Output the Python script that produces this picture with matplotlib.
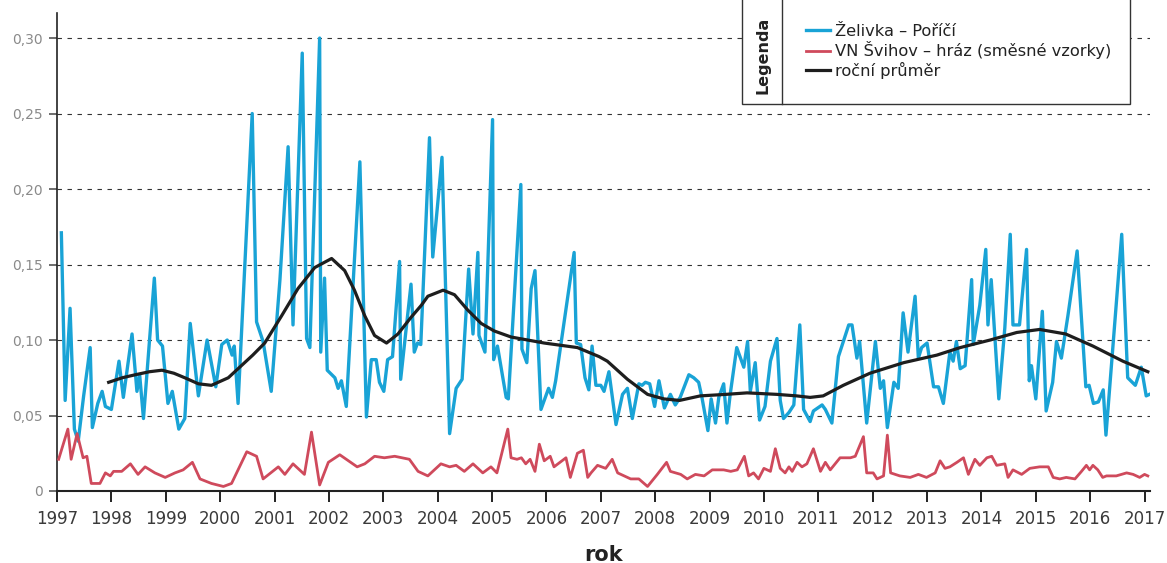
import matplotlib.pyplot as plt
from matplotlib.lines import Line2D
from matplotlib.patches import Rectangle

# Želivka – Poříčí
zelivka_t = [1997.08, 1997.15, 1997.24, 1997.32, 1997.39, 1997.49, 1997.61, 1997.65, 1997.75, 1997.83,
             1997.89, 1998.00, 1998.14, 1998.22, 1998.38, 1998.47, 1998.52, 1998.59, 1998.79, 1998.85,
             1998.94, 1999.04, 1999.12, 1999.24, 1999.35, 1999.45, 1999.60, 1999.76, 1999.92, 2000.03,
             2000.13, 2000.22, 2000.26, 2000.33, 2000.59, 2000.67, 2000.79, 2000.94, 2001.10, 2001.25,
             2001.34, 2001.51, 2001.59, 2001.65, 2001.83, 2001.85, 2001.92, 2001.97, 2002.11, 2002.17,
             2002.23, 2002.32, 2002.57, 2002.69, 2002.78, 2002.87, 2002.93, 2003.01, 2003.08, 2003.17,
             2003.30, 2003.32, 2003.51, 2003.57, 2003.63, 2003.69, 2003.85, 2003.91, 2004.08, 2004.22,
             2004.34, 2004.45, 2004.57, 2004.65, 2004.74, 2004.76, 2004.87, 2005.01, 2005.03, 2005.10,
             2005.26, 2005.30, 2005.53, 2005.55, 2005.64, 2005.72, 2005.79, 2005.90, 2006.04, 2006.11,
             2006.17, 2006.51, 2006.55, 2006.63, 2006.71, 2006.78, 2006.84, 2006.91, 2007.00, 2007.06,
             2007.15, 2007.28, 2007.40, 2007.49, 2007.58, 2007.70, 2007.76, 2007.82, 2007.90, 2007.99,
             2008.07, 2008.17, 2008.28, 2008.37, 2008.46, 2008.62, 2008.71, 2008.80, 2008.86, 2008.97,
             2009.03, 2009.11, 2009.17, 2009.26, 2009.32, 2009.38, 2009.50, 2009.63, 2009.70, 2009.75,
             2009.84, 2009.92, 2010.02, 2010.12, 2010.24, 2010.30, 2010.36, 2010.46, 2010.55, 2010.66,
             2010.73, 2010.85, 2010.91, 2011.07, 2011.13, 2011.25, 2011.37, 2011.56, 2011.62, 2011.71,
             2011.76, 2011.89, 2012.05, 2012.14, 2012.20, 2012.27, 2012.39, 2012.47, 2012.56, 2012.65,
             2012.78, 2012.84, 2012.90, 2013.00, 2013.12, 2013.21, 2013.30, 2013.42, 2013.48, 2013.54,
             2013.61, 2013.70, 2013.82, 2013.85, 2013.97, 2014.08, 2014.12, 2014.18, 2014.32, 2014.43,
             2014.53, 2014.58, 2014.70, 2014.83, 2014.88, 2014.92, 2015.00, 2015.12, 2015.19, 2015.31,
             2015.38, 2015.47, 2015.59, 2015.76, 2015.92, 2015.98, 2016.06, 2016.15, 2016.24, 2016.29,
             2016.58, 2016.69, 2016.83, 2016.94, 2017.03, 2017.09]
zelivka_v = [0.171, 0.060, 0.121, 0.041, 0.033, 0.063, 0.095, 0.042, 0.058, 0.066,
             0.056, 0.054, 0.086, 0.062, 0.104, 0.066, 0.077, 0.048, 0.141, 0.100,
             0.096, 0.058, 0.066, 0.041, 0.048, 0.111, 0.063, 0.100, 0.069, 0.097,
             0.100, 0.090, 0.096, 0.058, 0.250, 0.112, 0.099, 0.066, 0.140, 0.228,
             0.110, 0.290, 0.101, 0.095, 0.300, 0.092, 0.141, 0.080, 0.075, 0.068,
             0.073, 0.056, 0.218, 0.049, 0.087, 0.087, 0.072, 0.066, 0.087, 0.089,
             0.152, 0.074, 0.137, 0.092, 0.098, 0.097, 0.234, 0.155, 0.221, 0.038,
             0.068, 0.074, 0.147, 0.104, 0.158, 0.103, 0.092, 0.246, 0.087, 0.096,
             0.062, 0.061, 0.203, 0.094, 0.085, 0.134, 0.146, 0.054, 0.068, 0.062,
             0.073, 0.158, 0.098, 0.097, 0.075, 0.067, 0.096, 0.070, 0.070, 0.066,
             0.079, 0.044, 0.064, 0.068, 0.048, 0.071, 0.070, 0.072, 0.071, 0.056,
             0.073, 0.055, 0.064, 0.057, 0.062, 0.077, 0.075, 0.072, 0.062, 0.040,
             0.061, 0.045, 0.062, 0.071, 0.045, 0.064, 0.095, 0.082, 0.099, 0.066,
             0.085, 0.047, 0.056, 0.086, 0.101, 0.060, 0.048, 0.052, 0.057, 0.110,
             0.054, 0.046, 0.053, 0.057, 0.054, 0.045, 0.089, 0.110, 0.110, 0.088,
             0.099, 0.045, 0.099, 0.068, 0.073, 0.042, 0.072, 0.068, 0.118, 0.092,
             0.129, 0.088, 0.095, 0.098, 0.069, 0.069, 0.058, 0.092, 0.086, 0.099,
             0.081, 0.083, 0.140, 0.097, 0.123, 0.160, 0.110, 0.140, 0.061, 0.108,
             0.170, 0.110, 0.110, 0.160, 0.073, 0.083, 0.061, 0.119, 0.053, 0.072,
             0.099, 0.088, 0.116, 0.159, 0.069, 0.070, 0.058, 0.059, 0.067, 0.037,
             0.170, 0.075, 0.070, 0.082, 0.063, 0.064]

# VN Švihov – hráz (směsné vzorky)
svihov_t = [1997.03, 1997.20, 1997.26, 1997.37, 1997.48, 1997.55, 1997.63, 1997.79, 1997.89, 1997.98,
            1998.04, 1998.19, 1998.35, 1998.49, 1998.62, 1998.80, 1998.99, 1999.17, 1999.32, 1999.49,
            1999.63, 1999.84, 2000.06, 2000.21, 2000.49, 2000.67, 2000.79, 2001.07, 2001.19, 2001.34,
            2001.55, 2001.68, 2001.83, 2001.99, 2002.20, 2002.52, 2002.66, 2002.84, 2003.02, 2003.21,
            2003.48, 2003.64, 2003.82, 2004.06, 2004.22, 2004.34, 2004.49, 2004.65, 2004.83, 2004.98,
            2005.09, 2005.29, 2005.35, 2005.46, 2005.54, 2005.62, 2005.70, 2005.79, 2005.87, 2005.96,
            2006.07, 2006.14, 2006.25, 2006.36, 2006.44, 2006.57, 2006.68, 2006.76, 2006.82, 2006.94,
            2007.09, 2007.21, 2007.31, 2007.43, 2007.55, 2007.70, 2007.86, 2008.04, 2008.21, 2008.28,
            2008.47, 2008.59, 2008.74, 2008.90, 2009.05, 2009.26, 2009.39, 2009.51, 2009.64, 2009.72,
            2009.81, 2009.90, 2010.00, 2010.12, 2010.21, 2010.30, 2010.39, 2010.46, 2010.52, 2010.61,
            2010.70, 2010.79, 2010.91, 2011.04, 2011.13, 2011.22, 2011.40, 2011.59, 2011.68, 2011.83,
            2011.89, 2012.01, 2012.08, 2012.20, 2012.27, 2012.33, 2012.50, 2012.69, 2012.84, 2012.99,
            2013.15, 2013.24, 2013.33, 2013.42, 2013.55, 2013.67, 2013.76, 2013.88, 2013.97, 2014.10,
            2014.19, 2014.28, 2014.43, 2014.49, 2014.58, 2014.74, 2014.89, 2015.07, 2015.23, 2015.32,
            2015.44, 2015.56, 2015.72, 2015.84, 2015.93, 2015.99, 2016.05, 2016.14, 2016.23, 2016.30,
            2016.48, 2016.67, 2016.79, 2016.91, 2017.00, 2017.06]
svihov_v = [0.021, 0.041, 0.021, 0.038, 0.022, 0.023, 0.005, 0.005, 0.012, 0.010,
            0.013, 0.013, 0.018, 0.011, 0.016, 0.012, 0.009, 0.012, 0.014, 0.019,
            0.008, 0.005, 0.003, 0.005, 0.026, 0.023, 0.008, 0.016, 0.011, 0.018,
            0.011, 0.039, 0.004, 0.019, 0.024, 0.016, 0.018, 0.023, 0.022, 0.023,
            0.021, 0.013, 0.010, 0.018, 0.016, 0.017, 0.013, 0.018, 0.012, 0.016,
            0.012, 0.041, 0.022, 0.021, 0.022, 0.018, 0.021, 0.013, 0.031, 0.020,
            0.023, 0.016, 0.019, 0.022, 0.009, 0.025, 0.027, 0.009, 0.012, 0.017,
            0.015, 0.021, 0.012, 0.010, 0.008, 0.008, 0.003, 0.011, 0.019, 0.013,
            0.011, 0.008, 0.011, 0.010, 0.014, 0.014, 0.013, 0.014, 0.023, 0.010,
            0.012, 0.008, 0.015, 0.013, 0.028, 0.015, 0.012, 0.016, 0.013, 0.019,
            0.016, 0.018, 0.028, 0.013, 0.019, 0.014, 0.022, 0.022, 0.023, 0.036,
            0.012, 0.012, 0.008, 0.010, 0.037, 0.012, 0.010, 0.009, 0.011, 0.009,
            0.012, 0.020, 0.015, 0.016, 0.019, 0.022, 0.011, 0.021, 0.017, 0.022,
            0.023, 0.017, 0.018, 0.009, 0.014, 0.011, 0.015, 0.016, 0.016, 0.009,
            0.008, 0.009, 0.008, 0.013, 0.017, 0.014, 0.017, 0.014, 0.009, 0.010,
            0.010, 0.012, 0.011, 0.009, 0.011, 0.010]

# roční průměr
prumer_t = [1997.95, 1998.20, 1998.44, 1998.70, 1998.93, 1999.15, 1999.35, 1999.60, 1999.84, 2000.15,
            2000.39, 2000.60, 2000.82, 2001.13, 2001.43, 2001.74, 2002.05, 2002.29, 2002.47, 2002.66,
            2002.84, 2003.06, 2003.27, 2003.51, 2003.70, 2003.82, 2004.10, 2004.31, 2004.55, 2004.80,
            2005.04, 2005.35, 2005.96, 2006.57, 2006.97, 2007.12, 2007.49, 2007.86, 2008.16, 2008.45,
            2008.83, 2009.30, 2009.69, 2010.24, 2010.60, 2010.85, 2011.09, 2011.46, 2011.95, 2012.57,
            2013.18, 2013.61, 2014.16, 2014.65, 2015.07, 2015.55, 2016.05, 2016.60, 2017.06]
prumer_v = [0.072, 0.075, 0.077, 0.079, 0.080, 0.078, 0.075, 0.071, 0.070, 0.075,
            0.083, 0.090, 0.098, 0.116, 0.134, 0.148, 0.154, 0.146, 0.133, 0.116,
            0.103, 0.098, 0.104, 0.115, 0.123, 0.129, 0.133, 0.130, 0.120, 0.111,
            0.106, 0.102, 0.098, 0.095, 0.089, 0.086, 0.074, 0.064, 0.061, 0.060,
            0.063, 0.064, 0.065, 0.064, 0.063, 0.062, 0.063, 0.070, 0.078, 0.085,
            0.090, 0.095, 0.100, 0.105, 0.107, 0.104, 0.096, 0.086, 0.079]

roky = list(range(1997, 2018))
y_ticks = [0, 0.05, 0.10, 0.15, 0.20, 0.25, 0.30]
y_labels = ['0', '0,05', '0,10', '0,15', '0,20', '0,25', '0,30']
popisky = ['Želivka – Poříčí', 'VN Švihov – hráz (směsné vzorky)', 'roční průměr']

W, H = 1167, 563
fig = plt.figure(figsize=(W / 100, H / 100), dpi=100)
ax = fig.add_axes([57 / W, 1 - 491 / H, (1150 - 57) / W, (491 - 13) / H])

l1, = ax.plot(zelivka_t, zelivka_v, color='#19a3d6', lw=2.4, zorder=3)
l2, = ax.plot(svihov_t, svihov_v, color='#cf4a5c', lw=2.0, zorder=3)
l3, = ax.plot(prumer_t, prumer_v, color='#1e1e1e', lw=2.3, zorder=4)

ax.set_xlim(1997, 2017.1)
ax.set_ylim(0, 0.3166)
ax.set_xticks(roky)
ax.set_xticklabels([str(r) for r in roky], fontsize=12, color='#3a3a3a')
ax.set_yticks(y_ticks)
ax.set_yticklabels(y_labels, fontsize=10, color='#8a8a8a')
ax.tick_params(axis='x', length=8, width=1.4, color='#222222', pad=6)
ax.tick_params(axis='y', length=6, width=1.2, color='#555555', pad=4)
ax.grid(axis='y', linestyle=(0, (4, 5)), color='#333333', lw=0.8, zorder=1)
ax.set_axisbelow(True)

for s in ['top', 'right']:
    ax.spines[s].set_visible(False)
ax.spines['left'].set_linewidth(1.2)
ax.spines['left'].set_color('#222222')
ax.spines['bottom'].set_linewidth(1.5)
ax.spines['bottom'].set_color('#222222')

ax.set_xlabel('rok', fontsize=15, fontweight='bold', color='#222222', labelpad=12)

# legenda v rámečku
fig.add_artist(Rectangle((742 / W, 1 - 104 / H), (1130 - 742) / W, 120 / H,
                         transform=fig.transFigure, facecolor='white',
                         edgecolor='#333333', lw=1.0, zorder=2))
fig.add_artist(Line2D([782 / W, 782 / W], [1 - 104 / H, 1.0], transform=fig.transFigure,
                      color='#333333', lw=1.0, zorder=3))
fig.text(763 / W, 1 - 55 / H, 'Legenda', rotation=90, ha='center', va='center',
         fontsize=11.5, fontweight='bold', color='#222222', zorder=4)
fig.legend([l1, l2, l3], popisky, loc='upper left',
           bbox_to_anchor=(806 / W, 1 - 24 / H), bbox_transform=fig.transFigure,
           frameon=False, fontsize=11.7, handlelength=1.5, handletextpad=0.3,
           labelspacing=0.15, borderpad=0, borderaxespad=0, labelcolor='#222222')

plt.savefig('out.png', dpi=100)
